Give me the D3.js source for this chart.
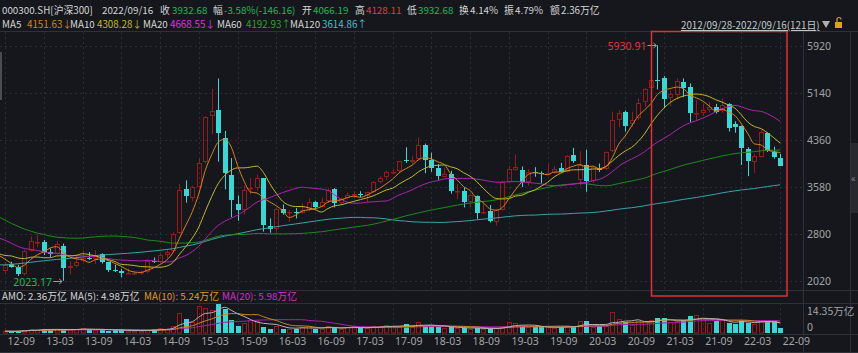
<!DOCTYPE html>
<html>
<head>
<meta charset="utf-8">
<script src="https://cdn.jsdelivr.net/npm/d3@7"></script>
<style>
body { margin: 0; background: #15171c; overflow: hidden; }
svg { display: block; font-family: "Noto Sans CJK SC", "Noto Sans", sans-serif; }
</style>
</head>
<body>
<svg id="chart" width="858" height="353"></svg>
<script>
var W = 858, H = 353;

// monthly candles 2012-09 .. 2022-09 (121 months)
var opens = [
	2190, 2300, 2255, 2140,
	2525, 2660, 2670, 2495, 2470, 2600, 2240, 2270, 2345, 2410, 2390, 2460,
	2330, 2210, 2180, 2150, 2150, 2160, 2165, 2360, 2340, 2450, 2510, 2810,
	3550, 3390, 3580, 4000, 4760, 4850, 4400, 3780, 3300, 3200, 3540, 3570,
	3725, 2940, 2880, 3220, 3150, 3170, 3150, 3200, 3330, 3250, 3340, 3540,
	3310, 3390, 3450, 3460, 3430, 3490, 3670, 3740, 3820, 3840, 4020, 4000,
	4045, 4270, 4030, 3900, 3750, 3800, 3500, 3510, 3330, 3430, 3150, 3190,
	3000, 3200, 3670, 3870, 3860, 3660, 3830, 3815, 3795, 3815, 3890, 3830,
	4110, 3700, 3950, 3680, 3900, 3880, 4170, 4700, 4830, 4620, 4720, 4990,
	5230, 5351, 5390, 5050, 5110, 5330, 5240, 4800, 4810, 4860, 4900, 4840,
	4960, 4620, 4590, 4210, 3990, 4080, 4480, 4160, 4066.19
];
var highs = [
	2330, 2340, 2290, 2540,
	2760, 2791, 2700, 2560, 2680, 2640, 2350, 2440, 2527, 2500, 2530, 2480,
	2340, 2290, 2220, 2230, 2180, 2190, 2380, 2410, 2480, 2540, 2830, 3630,
	3690, 3600, 4050, 4760, 5210, 5380.43, 4510, 4060, 3440, 3600, 3730, 3790,
	3730, 3060, 3230, 3290, 3200, 3230, 3310, 3390, 3350, 3400, 3560, 3560,
	3400, 3490, 3510, 3510, 3500, 3670, 3760, 3850, 3870, 4010, 4240, 4090,
	4403, 4300, 4150, 3960, 3900, 3850, 3630, 3570, 3460, 3440, 3310, 3280,
	3210, 3680, 3930, 4120, 3920, 3870, 3910, 3840, 3970, 3930, 3980, 4110,
	4230, 4175, 4200, 3920, 3970, 4170, 4830, 4850, 4850, 4830, 5050, 5220,
	5600, 5930.91, 5420, 5180, 5380, 5380, 5300, 5020, 4960, 4990, 4960, 5050,
	4970, 4670, 4600, 4240, 4130, 4520, 4490, 4250, 4128.11
];
var lows = [
	2130, 2240, 2102, 2110,
	2515, 2580, 2450, 2420, 2460, 2023.17, 2130, 2240, 2330, 2370, 2300, 2310,
	2170, 2170, 2080, 2130, 2115, 2120, 2150, 2320, 2320, 2400, 2490, 2800,
	3320, 3340, 3570, 3970, 4450, 4000, 3540, 3080, 3020, 3120, 3460, 3520,
	2840, 2820, 2820, 3120, 3000, 3060, 3140, 3180, 3210, 3250, 3320, 3240,
	3300, 3380, 3400, 3410, 3330, 3480, 3640, 3700, 3800, 3830, 3980, 3950,
	4030, 3810, 3830, 3700, 3740, 3470, 3380, 3240, 3240, 3050, 3140, 2990,
	2940, 3190, 3650, 3850, 3580, 3600, 3750, 3640, 3790, 3800, 3820, 3820,
	3980, 3600, 3500, 3650, 3830, 3860, 4160, 4570, 4500, 4580, 4690, 4910,
	5220, 5200, 4900, 4920, 5030, 5070, 4660, 4680, 4760, 4820, 4800, 4810,
	4500, 4480, 3945, 3760, 3810, 4070, 4160, 4050, 3932.68
];
var closes = [
	2293, 2255, 2140, 2523,
	2687, 2673, 2495, 2468, 2627, 2235, 2270, 2341, 2409, 2392, 2457, 2330,
	2202, 2179, 2146, 2158, 2160, 2165, 2360, 2338, 2450, 2508, 2808, 3533,
	3434, 3572, 3986, 4750, 4840, 4473, 3816, 3366, 3202, 3534, 3566, 3731,
	2946, 2877, 3218, 3156, 3170, 3154, 3203, 3327, 3253, 3336, 3538, 3311,
	3387, 3452, 3456, 3439, 3492, 3666, 3737, 3822, 3837, 4006, 4006, 4031,
	4276, 4024, 3899, 3757, 3802, 3511, 3518, 3335, 3439, 3154, 3173, 3011,
	3202, 3669, 3872, 3913, 3660, 3826, 3815, 3800, 3815, 3887, 3829, 4097,
	4004, 3940, 3686, 3913, 3867, 4164, 4695, 4816, 4588, 4695, 4981, 5211,
	5352, 5337, 5048, 5123, 5331, 5224, 4811, 4806, 4866, 4909, 4832, 4940,
	4564, 4582, 4223, 4016, 4091, 4485, 4170, 4079, 3932.68
];
// monthly closes 2002-10 .. 2012-08, only used to warm up the moving averages
var earlierCloses = [
	1120, 1080, 1050,
	1130, 1140, 1130, 1180, 1200, 1130, 1110, 1070, 1040, 1030, 1050, 1190,
	1280, 1350, 1380, 1200, 1210, 1080, 1080, 1040, 1100, 1040, 1060, 1000,
	940, 1040, 940, 930, 860, 880, 890, 930, 920, 880, 890, 923,
	1000, 1030, 1050, 1180, 1330, 1410, 1350, 1380, 1440, 1520, 1790, 2041,
	2400, 2480, 2780, 3580, 4050, 3910, 4470, 5330, 5600, 5688, 4900, 5338,
	4740, 4640, 3790, 4130, 3700, 2700, 2790, 2390, 2290, 1660, 1870, 1817,
	1990, 2150, 2500, 2620, 2830, 3240, 3750, 2960, 3120, 3490, 3670, 3575,
	3200, 3280, 3350, 3070, 2700, 2560, 2860, 2900, 2940, 3400, 3150, 3128,
	3080, 3240, 3220, 3200, 3000, 3040, 2940, 2880, 2630, 2740, 2600, 2346,
	2465, 2635, 2455, 2630, 2630, 2460, 2330, 2200
];
// turnover, 万亿
var amounts = [
	0.9, 0.8, 0.9, 1.6,
	2.2, 1.5, 2.0, 1.4, 1.9, 1.9, 1.6, 1.8, 2.3, 1.8, 1.6, 1.5,
	1.2, 1.6, 1.3, 1.1, 1.0, 1.0, 1.6, 1.9, 2.4, 2.1, 3.3, 9.9,
	7.1, 5.5, 13.5, 12.4, 11.5, 14.35, 11.9, 6.3, 3.6, 5.0, 6.6, 5.8,
	3.0, 2.0, 3.6, 2.1, 2.0, 2.1, 3.0, 3.3, 2.1, 2.0, 3.6, 2.8,
	2.0, 3.0, 3.0, 2.5, 2.5, 3.3, 3.3, 4.1, 3.3, 2.8, 4.5, 3.0,
	5.3, 3.6, 3.3, 3.0, 2.5, 3.0, 2.5, 2.5, 2.0, 2.5, 2.0, 2.0,
	2.5, 3.3, 5.4, 5.0, 3.0, 3.0, 2.8, 3.0, 3.0, 2.5, 3.0, 3.3,
	3.3, 5.8, 5.8, 2.8, 3.3, 3.3, 10.4, 6.9, 5.5, 4.0, 5.9, 6.0,
	6.6, 7.2, 7.6, 5.2, 5.7, 6.2, 8.4, 8.8, 7.4, 5.0, 5.7, 6.4,
	4.9, 4.6, 6.5, 5.1, 4.6, 6.3, 5.8, 5.8, 2.36
];

var priceTicks = [5920, 5140, 4360, 3580, 2800, 2020];
var xTickLabels = ["12-09", "13-03", "13-09", "14-03", "14-09", "15-03", "15-09", "16-03", "16-09",
	"17-03", "17-09", "18-03", "18-09", "19-03", "19-09", "20-03", "20-09", "21-03", "21-09", "22-03", "22-09"];

var maPeriods = [5, 10, 20, 60, 120];
var maColors = ["#d4861c", "#c2b82a", "#b022b0", "#1f8a1f", "#3ba3aa"];
var volMaPeriods = [5, 10, 20];
var volMaColors = ["#b4b4b4", "#c8861c", "#a822a8"];

var upColor = "#961c1c";
var downColor = "#3fd5d5";
var gridColor = "#2a2d34";
var lineColor = "#2e3138";
var axisText = "#a4a4a4";

var n = closes.length;

var svg = d3.select("#chart");

var x = d3.scaleLinear().domain([0, n - 1]).range([5, 780.2]);
var y = d3.scaleLinear().domain([2020, 5920]).range([281, 46]);
var yv = d3.scaleLinear().domain([0, 14.35]).range([333, 304]);

svg.append("rect").attr("width", W).attr("height", H).attr("fill", "#15171c");

var defs = svg.append("defs");
defs.append("clipPath").attr("id", "clipMain")
	.append("rect").attr("x", 0).attr("y", 32).attr("width", 803).attr("height", 258);
defs.append("clipPath").attr("id", "clipVol")
	.append("rect").attr("x", 0).attr("y", 303).attr("width", 803).attr("height", 31);

//////// grid + frame

var gridG = svg.append("g");

gridG.selectAll(".hgrid").data(priceTicks).enter().append("line")
	.attr("x1", 0).attr("x2", 803)
	.attr("y1", d => Math.round(y(d)) + 0.5).attr("y2", d => Math.round(y(d)) + 0.5)
	.attr("stroke", gridColor).attr("stroke-dasharray", "2,3");

var tickIdx = xTickLabels.map((d, i) => i * 6);

[[32, 290], [303, 334]].forEach(function(r) {
	gridG.selectAll(null).data(tickIdx).enter().append("line")
		.attr("x1", d => Math.round(x(d)) + 0.5).attr("x2", d => Math.round(x(d)) + 0.5)
		.attr("y1", r[0]).attr("y2", r[1])
		.attr("stroke", gridColor).attr("stroke-dasharray", "2,3");
});

[31.5, 290.5, 303.5, 334.5, 352.5].forEach(function(yy) {
	gridG.append("line").attr("x1", 0).attr("x2", W).attr("y1", yy).attr("y2", yy)
		.attr("stroke", lineColor);
});
[803.5, 850.5].forEach(function(xx) {
	gridG.append("line").attr("x1", xx).attr("x2", xx).attr("y1", 31).attr("y2", H)
		.attr("stroke", lineColor);
});

// left scroll handle and right collapse tab
svg.append("rect").attr("x", 0).attr("y", 52).attr("width", 2).attr("height", 48).attr("fill", "#4a4c52");
svg.append("rect").attr("x", 851).attr("y", 143).attr("width", 7).attr("height", 70).attr("fill", "#27292e");
svg.append("text").attr("x", 851).attr("y", 182).attr("fill", "#8a8a8a")
	.attr("font-size", 10).text("«");

//////// moving averages

var allCloses = earlierCloses.concat(closes);
var offset = earlierCloses.length;

function maSeries(values, off, period, from) {
	var out = [];
	for (var i = from; i < n; i++) {
		var end = off + i;
		var start = Math.max(0, end - period + 1);
		out.push({ i: i, v: d3.mean(values.slice(start, end + 1)) });
	}
	return out;
}

//////// candles

var main = svg.append("g").attr("clip-path", "url(#clipMain)");

var candles = main.selectAll(".candle").data(d3.range(n)).enter().append("g");

candles.each(function(i) {
	var g = d3.select(this);
	var cx = Math.round(x(i)) + 0.5;
	var o = opens[i], c = closes[i];
	var yTop = Math.round(y(Math.max(o, c)));
	var yBot = Math.round(y(Math.min(o, c)));
	var bodyH = Math.max(1, yBot - yTop);

	if (c >= o) {
		g.append("line").attr("x1", cx).attr("x2", cx)
			.attr("y1", y(highs[i])).attr("y2", yTop)
			.attr("stroke", upColor);
		g.append("line").attr("x1", cx).attr("x2", cx)
			.attr("y1", yTop + bodyH).attr("y2", y(lows[i]))
			.attr("stroke", upColor);
		g.append("rect").attr("x", cx - 2).attr("y", yTop + 0.5)
			.attr("width", 4).attr("height", Math.max(0.5, bodyH - 1))
			.attr("fill", "none").attr("stroke", upColor);
	} else {
		g.append("line").attr("x1", cx).attr("x2", cx)
			.attr("y1", y(highs[i])).attr("y2", y(lows[i]))
			.attr("stroke", downColor);
		g.append("rect").attr("x", cx - 2.5).attr("y", yTop)
			.attr("width", 5).attr("height", bodyH)
			.attr("fill", downColor);
	}
});

var priceLine = d3.line().x(d => x(d.i)).y(d => y(d.v)).curve(d3.curveMonotoneX);

maPeriods.slice().reverse().forEach(function(p, k) {
	var col = maColors[maPeriods.length - 1 - k];
	main.append("path")
		.datum(maSeries(allCloses, offset, p, -1))
		.attr("d", priceLine)
		.attr("fill", "none").attr("stroke", col).attr("stroke-width", 1);
});

//////// volume

var vol = svg.append("g").attr("clip-path", "url(#clipVol)");

vol.selectAll(".vbar").data(d3.range(n)).enter().append("rect")
	.each(function(i) {
		var cx = Math.round(x(i)) + 0.5;
		var top = Math.round(yv(amounts[i]));
		var h = Math.max(1, 333 - top);
		var bar = d3.select(this);
		if (closes[i] >= opens[i]) {
			bar.attr("x", cx - 2).attr("y", top + 0.5).attr("width", 4).attr("height", Math.max(0.5, h - 0.5))
				.attr("fill", "none").attr("stroke", upColor);
		} else {
			bar.attr("x", cx - 2.5).attr("y", top).attr("width", 5).attr("height", h)
				.attr("fill", downColor);
		}
	});

var volLine = d3.line().x(d => x(d.i)).y(d => yv(d.v)).curve(d3.curveMonotoneX);

volMaPeriods.slice().reverse().forEach(function(p, k) {
	var col = volMaColors[volMaPeriods.length - 1 - k];
	vol.append("path")
		.datum(maSeries(amounts, 0, p, 0))
		.attr("d", volLine)
		.attr("fill", "none").attr("stroke", col).attr("stroke-width", 1);
});

//////// axes

var yAxisG = svg.append("g")
	.attr("transform", "translate(807,0)")
	.call(d3.axisRight(y).tickValues(priceTicks).tickSize(0).tickPadding(0).tickFormat(d3.format("d")));
yAxisG.select(".domain").remove();
yAxisG.selectAll("text").attr("fill", axisText).attr("font-size", 10.5)
	.attr("font-family", "\"Noto Sans\", sans-serif");

svg.append("text").attr("x", 807).attr("y", yv(14.35) + 11).attr("fill", axisText)
	.attr("font-size", 10.5).text("14.35万亿");
svg.append("text").attr("x", 807).attr("y", yv(0) - 2).attr("fill", axisText)
	.attr("font-size", 10.5).attr("font-family", "\"Noto Sans\", sans-serif").text("0");

var xAxisG = svg.append("g")
	.attr("transform", "translate(0,334)")
	.call(d3.axisBottom(x).tickValues(tickIdx).tickSize(0)
		.tickFormat((d, i) => xTickLabels[i]));
xAxisG.select(".domain").remove();
xAxisG.selectAll("text")
	.attr("text-anchor", "start").attr("dx", 2).attr("y", 11).attr("dy", 0)
	.attr("fill", axisText).attr("font-size", 10.5)
	.attr("font-family", "\"Noto Sans\", sans-serif");

//////// annotations

var hiIdx = highs.indexOf(d3.max(highs));
var loIdx = lows.indexOf(d3.min(lows));

function annotate(i, v, color) {
	var ax = x(i), ay = Math.round(y(v)) + 0.5;
	svg.append("text").attr("x", ax - 11).attr("y", ay + 4)
		.attr("text-anchor", "end").attr("fill", color).attr("font-size", 10.5)
		.attr("font-family", "\"Noto Sans\", sans-serif")
		.text(d3.format(".2f")(v));
	svg.append("line").attr("x1", ax - 10).attr("x2", ax - 1).attr("y1", ay).attr("y2", ay)
		.attr("stroke", "#9a9a9a");
	svg.append("path").attr("d", "M" + (ax - 4) + "," + (ay - 2.5) + "L" + (ax - 1) + "," + ay + "L" + (ax - 4) + "," + (ay + 2.5))
		.attr("fill", "none").attr("stroke", "#9a9a9a");
}
annotate(hiIdx, highs[hiIdx], "#e0383a");
annotate(loIdx, lows[loIdx], "#23b45a");

svg.append("rect").attr("x", 651.5).attr("y", 31.5).attr("width", 135.5).attr("height", 264.5)
	.attr("fill", "none").attr("stroke", "#e03232").attr("stroke-width", 1.5);

//////// header text

var green = "#20b85a", red = "#e03c3c", light = "#d6d6d6";

var headRow1 = [
	[2, "000300.SH[沪深300]", light], [102, "2022/09/16", light],
	[160, "收", light], [172, "3932.68", green],
	[213, "幅", light], [224, "-3.58%(-146.16)", green],
	[302, "开", light], [313, "4066.19", green],
	[355, "高", light], [366, "4128.11", red],
	[407, "低", light], [418, "3932.68", green],
	[459, "换", light], [470, "4.14%", light],
	[504, "振", light], [515, "4.79%", light],
	[550, "额", light], [561, "2.36万亿", light]
];
var headRow2 = [
	[2, "MA5", light], [27, "4151.63↓", maColors[0]],
	[70, "MA10", light], [97, "4308.28↓", maColors[1]],
	[143, "MA20", light], [170, "4668.55↓", "#e030e0"],
	[217, "MA60", light], [246, "4192.93↑", "#2aa52a"],
	[290, "MA120", light], [322, "3614.86↑", "#3ec4cc"]
];
var volRow = [
	[2, "AMO: 2.36万亿", light], [70, "MA(5): 4.98万亿", light],
	[144, "MA(10): 5.24万亿", "#e09a26"], [222, "MA(20): 5.98万亿", "#d030d0"]
];

function textRow(rows, baseY) {
	svg.append("g").selectAll("text").data(rows).enter().append("text")
		.attr("x", d => d[0]).attr("y", baseY)
		.attr("fill", d => d[2]).attr("font-size", 9.8)
		.text(d => d[1]);
}
textRow(headRow1, 14);
textRow(headRow2, 28);
textRow(volRow, 300);

svg.append("text").attr("x", 681).attr("y", 29).attr("fill", "#c8c8c8")
	.attr("font-size", 9.8).attr("text-decoration", "underline")
	.text("2012/09/28-2022/09/16(121日)");
svg.append("path").attr("d", "M822,21L830,21L826,28Z").attr("fill", "#b0b0b0");
svg.append("rect").attr("x", 835).attr("y", 22).attr("width", 7).attr("height", 6).attr("fill", "#e0a020");
svg.append("path").attr("d", "M837,22V19.5a2,2 0 0 1 4,0").attr("fill", "none").attr("stroke", "#e0a020").attr("stroke-width", 1.2);
</script>
</body>
</html>
